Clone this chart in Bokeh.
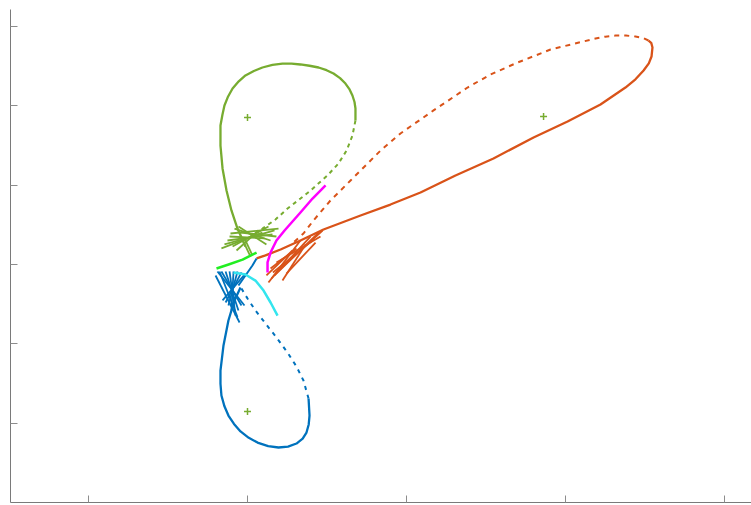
from bokeh.plotting import figure
from bokeh.models import Range1d, FixedTicker, CustomJSTickFormatter
from bokeh.embed import file_html
from bokeh.resources import INLINE

# tick positions (no labels shown in the reference)
x_ticks = [-1, 0, 1, 2, 3]
y_ticks = [-1.0, -0.5, 0.0, 0.5, 1.0, 1.5]

# green orbit
green_solid_x = [-0.013, -0.063, -0.101, -0.132, -0.157, -0.170, -0.170, -0.158, -0.145, -0.122, -0.094, -0.055, -0.013, 0.040, 0.094, 0.157, 0.220, 0.277, 0.333, 0.390, 0.447, 0.497, 0.541, 0.582, 0.616, 0.642, 0.660, 0.673, 0.679, 0.679]
green_solid_y = [0.113, 0.226, 0.340, 0.465, 0.604, 0.748, 0.874, 0.940, 1.000, 1.057, 1.107, 1.152, 1.189, 1.217, 1.239, 1.256, 1.264, 1.263, 1.258, 1.250, 1.239, 1.222, 1.201, 1.172, 1.138, 1.101, 1.063, 1.022, 0.981, 0.906]
green_dot_x = [0.679, 0.660, 0.623, 0.572, 0.503, 0.396, 0.333, 0.252, 0.176, 0.094, 0.019]
green_dot_y = [0.906, 0.811, 0.717, 0.635, 0.560, 0.465, 0.415, 0.352, 0.283, 0.226, 0.176]

# blue orbit
blue_solid_x = [-0.044, -0.082, -0.120, -0.151, -0.170, -0.170, -0.164, -0.145, -0.120, -0.085, -0.044, 0.008, 0.063, 0.130, 0.195, 0.255, 0.308, 0.347, 0.371, 0.385, 0.390, 0.384]
blue_solid_y = [-0.145, -0.226, -0.352, -0.509, -0.667, -0.750, -0.824, -0.892, -0.950, -1.003, -1.050, -1.090, -1.120, -1.142, -1.151, -1.145, -1.126, -1.095, -1.057, -1.006, -0.950, -0.843]
blue_dot_x = [0.384, 0.352, 0.308, 0.252, 0.182, 0.113, 0.050, 0.000, -0.038]
blue_dot_y = [-0.843, -0.730, -0.642, -0.554, -0.459, -0.371, -0.289, -0.214, -0.151]
blue_link_x = [0.057, 0.031, -0.013, -0.057]
blue_link_y = [0.038, -0.006, -0.069, -0.132]

# orange orbit
orange_solid_x = [0.057, 0.113, 0.208, 0.333, 0.478, 0.711, 0.899, 1.088, 1.308, 1.547, 1.799, 2.013, 2.220, 2.377, 2.440, 2.491, 2.524, 2.541, 2.547, 2.540, 2.522]
orange_solid_y = [0.038, 0.057, 0.094, 0.151, 0.220, 0.308, 0.377, 0.453, 0.560, 0.667, 0.799, 0.899, 1.006, 1.113, 1.165, 1.220, 1.265, 1.308, 1.365, 1.392, 1.409]
orange_dot_x = [2.522, 2.487, 2.440, 2.380, 2.315, 2.250, 2.189, 2.113, 1.906, 1.698, 1.528, 1.384, 1.170, 0.962, 0.837, 0.648, 0.522, 0.415, 0.352, 0.289]
orange_dot_y = [1.409, 1.425, 1.434, 1.440, 1.440, 1.433, 1.421, 1.403, 1.352, 1.270, 1.195, 1.113, 0.969, 0.824, 0.717, 0.528, 0.403, 0.277, 0.195, 0.138]

# short transfer arcs
magenta_x = [0.126, 0.126, 0.145, 0.182, 0.233, 0.333, 0.409, 0.491]
magenta_y = [-0.050, 0.013, 0.075, 0.151, 0.214, 0.327, 0.415, 0.497]
lime_x = [-0.195, -0.119, -0.031, 0.057]
lime_y = [-0.025, 0.000, 0.031, 0.075]
cyan_x = [-0.088, -0.013, 0.050, 0.101, 0.145, 0.189]
cyan_y = [-0.050, -0.063, -0.101, -0.164, -0.239, -0.321]

# fans of strokes near the close approaches
green_fan_xs = [[-0.164, 0.094], [-0.126, 0.157], [-0.107, 0.195], [-0.082, 0.145], [-0.057, 0.119],
                [-0.044, 0.182], [-0.094, 0.132], [-0.069, 0.069], [-0.044, 0.019], [-0.019, 0.031],
                [-0.145, 0.170], [-0.113, 0.107]]
green_fan_ys = [[0.101, 0.201], [0.151, 0.189], [0.195, 0.226], [0.226, 0.151], [0.239, 0.126],
                [0.201, 0.176], [0.113, 0.239], [0.088, 0.214], [0.182, 0.050], [0.164, 0.057],
                [0.126, 0.214], [0.176, 0.164]]
orange_fan_xs = [[0.132, 0.333], [0.151, 0.396], [0.170, 0.447], [0.195, 0.472], [0.220, 0.365],
                 [0.245, 0.428], [0.145, 0.308], [0.182, 0.459], [0.119, 0.283], [0.160, 0.420]]
orange_fan_ys = [[-0.113, 0.151], [-0.088, 0.176], [-0.069, 0.201], [-0.038, 0.214], [-0.101, 0.126],
                 [-0.057, 0.138], [-0.025, 0.101], [0.013, 0.176], [-0.069, 0.088], [-0.050, 0.160]]
blue_fan_xs = [[-0.189, -0.019], [-0.164, -0.038], [-0.138, -0.057], [-0.113, -0.075], [-0.088, -0.101],
               [-0.063, -0.120], [-0.038, -0.138], [-0.013, -0.157], [-0.201, -0.050], [-0.176, -0.063]]
blue_fan_ys = [[-0.044, -0.258], [-0.044, -0.258], [-0.044, -0.289], [-0.044, -0.321], [-0.044, -0.289],
               [-0.044, -0.258], [-0.050, -0.239], [-0.057, -0.226], [-0.069, -0.365], [-0.044, -0.330]]

# centres
centre_x = [0.0, 0.0, 1.862]
centre_y = [0.925, -0.925, 0.931]

BLUE = "#0072BD"
ORANGE = "#D95319"
GREEN = "#77AC30"

p = figure(width=751, height=505,
           x_range=Range1d(-1.4906, 3.1698), y_range=Range1d(-1.4969, 1.6038),
           output_backend="svg", toolbar_location=None,
           min_border_left=10, min_border_right=0, min_border_top=9, min_border_bottom=3)
p.outline_line_color = None
p.grid.visible = False
p.background_fill_color = "white"
p.border_fill_color = "white"

for ax in (p.xaxis[0], p.yaxis[0]):
    ax.formatter = CustomJSTickFormatter(code="return ''")
    ax.major_label_text_font_size = "1px"
    ax.major_label_standoff = 0
    ax.major_tick_in = 7
    ax.major_tick_out = 0
    ax.minor_tick_in = 0
    ax.minor_tick_out = 0
    ax.axis_line_color = "#7a7a7a"
    ax.axis_line_width = 1
    ax.major_tick_line_color = "#8c8c8c"
    ax.major_tick_line_width = 1
p.xaxis[0].ticker = FixedTicker(ticks=x_ticks)
p.yaxis[0].ticker = FixedTicker(ticks=y_ticks)

# orange
p.multi_line(orange_fan_xs, orange_fan_ys, line_color=ORANGE, line_width=1.8)
p.line(orange_solid_x, orange_solid_y, line_color=ORANGE, line_width=2.3, line_join="round")
p.line(orange_dot_x, orange_dot_y, line_color=ORANGE, line_width=2, line_dash="5 5")

# green
p.multi_line(green_fan_xs, green_fan_ys, line_color=GREEN, line_width=1.8)
p.line(green_solid_x, green_solid_y, line_color=GREEN, line_width=2.3, line_join="round")
p.line(green_dot_x, green_dot_y, line_color=GREEN, line_width=2, line_dash="4 4")

# blue
p.multi_line(blue_fan_xs, blue_fan_ys, line_color=BLUE, line_width=1.8)
p.line(blue_solid_x, blue_solid_y, line_color=BLUE, line_width=2.3, line_join="round")
p.line(blue_dot_x, blue_dot_y, line_color=BLUE, line_width=2, line_dash="4 5")
p.line(blue_link_x, blue_link_y, line_color=BLUE, line_width=2)

# transfer arcs
p.line(magenta_x, magenta_y, line_color="#FF00FF", line_width=2.5, line_join="round")
p.line(lime_x, lime_y, line_color="#22EE22", line_width=2.5, line_join="round")
p.line(cyan_x, cyan_y, line_color="#33E5EE", line_width=2.5, line_join="round")

p.scatter(centre_x, centre_y, marker="cross", size=7, line_color=GREEN, line_width=1.5)

open("out.html", "w").write(file_html(p, INLINE))
